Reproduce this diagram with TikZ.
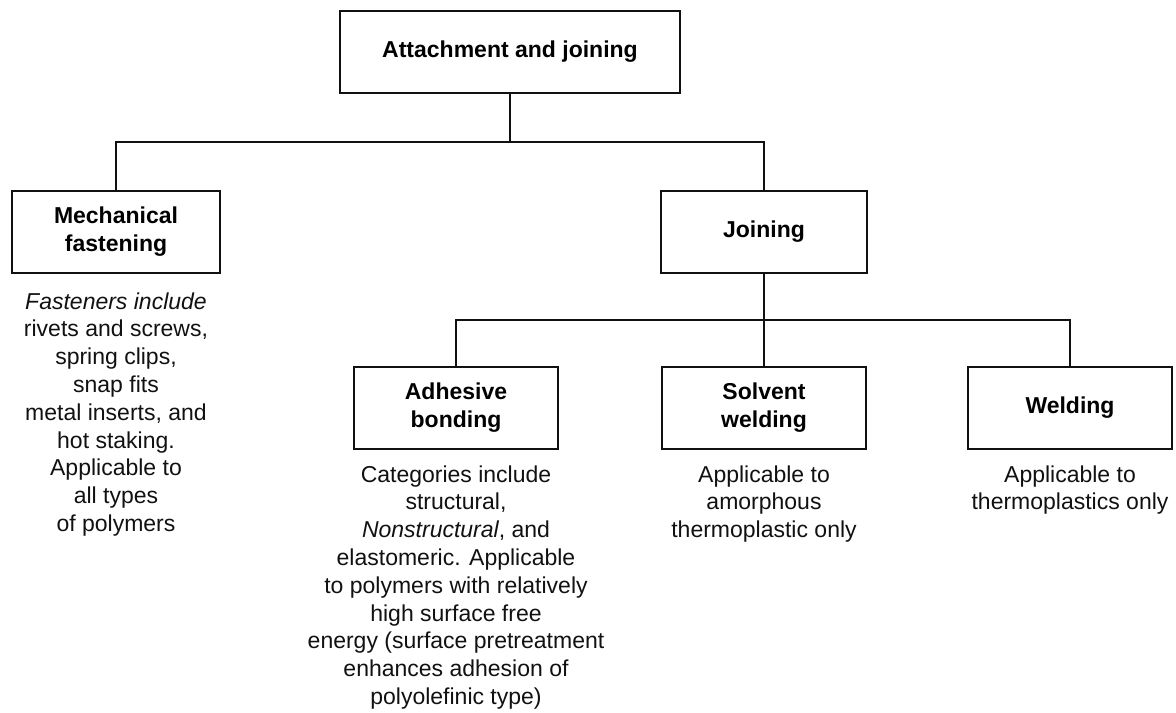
\documentclass[tikz,border=0pt]{standalone}
\usepackage{fontspec}
\setmainfont{Liberation Sans}
\usetikzlibrary{positioning,calc}
\definecolor{inkc}{HTML}{111111}

\begin{document}
\begin{tikzpicture}[
      box/.style={draw=inkc,line width=1pt,minimum width=102pt,minimum height=41pt,align=center,font=\fontsize{11.5}{14}\selectfont\bfseries},
      note/.style={inner sep=0pt,align=center,text=inkc,font=\fontsize{11.5}{13.9}\selectfont},
      wire/.style={draw=inkc,line width=1pt}]
    \useasboundingbox (0,0) rectangle (588pt,-356pt);
    \node[box,minimum width=170pt] (att) at (255pt,-26pt) {Attachment and joining};
    \node[box,minimum width=104pt,below=48pt of att,xshift=-197pt] (mech) {Mechanical\\fastening};
    \node[box,minimum width=103pt,below=48pt of att,xshift=127pt] (join) {Joining};
    \node[box,below=46pt of join] (solv) {Solvent\\welding};
    \node[box,left=51pt of solv] (adh) {Adhesive\\bonding};
    \node[box,right=50pt of solv] (weld) {Welding};
    % notes under the boxes
    \node[note,below=9pt of mech] (mechtxt) {\textit{Fasteners include}\\rivets and screws,\\spring clips,\\snap fits\\metal inserts, and\\hot staking.\\Applicable to\\all types\\of polymers};
    \node[note,below=7.5pt of adh] (adhtxt) {Categories include\\structural,\\\textit{Nonstructural}, and\\elastomeric. Applicable\\to polymers with relatively\\high surface free\\energy (surface pretreatment\\enhances adhesion of\\polyolefinic type)};
    \node[note,below=7.5pt of solv] (solvtxt) {Applicable to\\amorphous\\thermoplastic only};
    \node[note,below=7.5pt of weld] (weldtxt) {Applicable to\\thermoplastics only};
    % tree lines
    \coordinate (bus1) at ($(att.south)!0.5!(att.south |- mech.north)$);
    \coordinate (bus2) at ($(join.south)!0.5!(join.south |- solv.north)$);
    \draw[wire] (att.south) -- (bus1);
    \draw[wire] (mech.north) |- (bus1) -| (join.north);
    \draw[wire] (join.south) -- (solv.north);
    \draw[wire] (adh.north) |- (bus2) -| (weld.north);
  \end{tikzpicture}
\end{document}
